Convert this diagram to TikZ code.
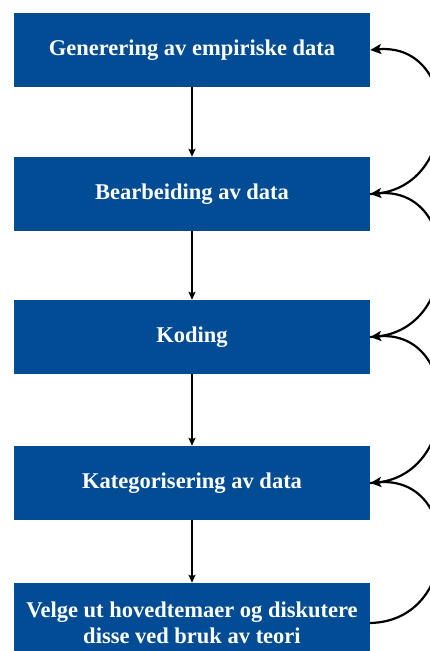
\documentclass[tikz,border=0pt]{standalone}
\usepackage{fontspec}
\setmainfont{Liberation Serif}
\usetikzlibrary{arrows.meta}
\definecolor{stepblue}{RGB}{1,76,148}
\begin{document}
\begin{tikzpicture}[x=1pt,y=1pt,
  stepbox/.style={fill=stepblue, draw=none, minimum width=356pt, minimum height=74pt,
    inner sep=0pt, text=white, align=center,
    font=\fontsize{22.5}{26}\selectfont\bfseries},
  downarrow/.style={draw=black, line width=1.6pt, -{Stealth[length=8pt,width=7pt,inset=1.5pt]}},
  backarrow/.style={draw=black, line width=2.2pt, -{Stealth[length=11pt,width=10pt,inset=2.5pt]}}]
  \useasboundingbox (0,0) rectangle (430,651);
  \clip (0,0) rectangle (430,651);
  % process steps, top to bottom
  \node[stepbox] (b1) at (192,601) {Generering av empiriske data};
  \node[stepbox] (b2) at (192,457) {Bearbeiding av data};
  \node[stepbox] (b3) at (192,314) {Koding};
  \node[stepbox] (b4) at (192,168) {Kategorisering av data};
  \node[stepbox, minimum height=80pt] (b5) at (192,28)
    {Velge ut hovedtemaer og diskutere\\disse ved bruk av teori};
  % forward flow
  \draw[downarrow] (b1.south) -- (b2.north);
  \draw[downarrow] (b2.south) -- (b3.north);
  \draw[downarrow] (b3.south) -- (b4.north);
  \draw[downarrow] (b4.south) -- (b5.north);
  % feedback loops on the right
  \draw[backarrow] (b2.east) .. controls +(92,2) and +(92,8) .. (b1.east);
  \draw[backarrow] (b3.east) .. controls +(92,2) and +(92,8) .. (b2.east);
  \draw[backarrow] (b4.east) .. controls +(92,2) and +(92,8) .. (b3.east);
  \draw[backarrow] (b5.east) .. controls +(92,2) and +(92,8) .. (b4.east);
\end{tikzpicture}
\end{document}
